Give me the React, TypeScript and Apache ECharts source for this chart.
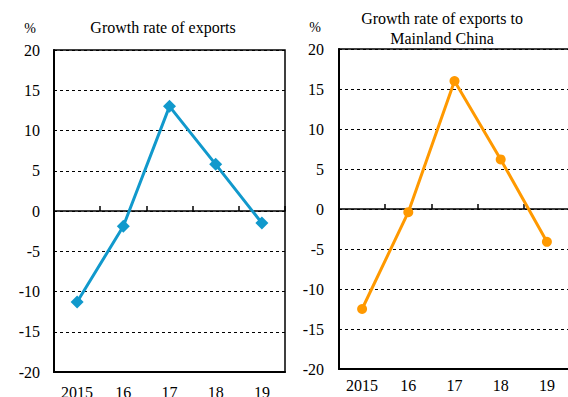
import React, { useEffect, useRef } from "react";
import * as echarts from "echarts";

const years = ["2015", "16", "17", "18", "19"];
const exportsGrowth = [-11.3, -1.9, 13.0, 5.8, -1.5];
const mainlandGrowth = [-12.5, -0.4, 16.0, 6.2, -4.1];
const yTicks = { min: -20, max: 20, interval: 5 };

const FONT = "Liberation Serif";

export default function App() {
  const ref = useRef<HTMLDivElement>(null);
  useEffect(() => {
    document.body.style.margin = "0";
    const chart = echarts.init(ref.current!, null, { renderer: "svg" });
    const grids = [
      { left: 54, top: 50, width: 231, height: 322 },
      { left: 339, top: 49, width: 231, height: 320 },
    ];
    const labelStyle = { color: "#000", fontFamily: FONT, fontSize: 16 };
    const yAxis = grids.map((_, i) => ({
      type: "value",
      gridIndex: i,
      min: yTicks.min,
      max: yTicks.max,
      interval: yTicks.interval,
      axisLine: { show: true, lineStyle: { color: "#000", width: 2 } },
      axisTick: { show: false },
      axisLabel: { ...labelStyle, margin: i === 0 ? 14 : 15 },
      splitLine: { show: true, lineStyle: { color: "#000", type: [3, 3], width: 1 } },
    }));
    const xAxis: any[] = [];
    grids.forEach((_, i) => {
      xAxis.push({
        type: "category",
        gridIndex: i,
        data: years,
        position: "bottom",
        axisLine: { show: true, onZero: false, lineStyle: { color: "#000", width: 2 } },
        axisTick: { show: false },
        axisLabel: { ...labelStyle, margin: i === 0 ? 12 : 8 },
      });
      xAxis.push({
        type: "category",
        gridIndex: i,
        data: years,
        position: "bottom",
        axisLine: { show: true, onZero: true, lineStyle: { color: "#000", width: 1.5 } },
        axisTick: { show: true, inside: true, length: 5, lineStyle: { color: "#000", width: 1.5 } },
        axisLabel: { show: false },
      });
    });
    chart.setOption({
      animation: false,
      textStyle: { fontFamily: FONT },
      grid: grids.map((g) => ({
        ...g,
        outerBoundsMode: "none",
        containLabel: false,
        show: true,
        borderColor: "#000",
        borderWidth: 1.5,
        backgroundColor: "#fff",
      })),
      xAxis,
      yAxis,
      series: [
        {
          type: "line",
          xAxisIndex: 0,
          yAxisIndex: 0,
          data: exportsGrowth,
          symbol: "diamond",
          symbolSize: 13,
          itemStyle: { color: "#1199CC" },
          lineStyle: { color: "#1199CC", width: 3 },
        },
        {
          type: "line",
          xAxisIndex: 2,
          yAxisIndex: 1,
          data: mainlandGrowth,
          symbol: "circle",
          symbolSize: 10,
          itemStyle: { color: "#FF9900" },
          lineStyle: { color: "#FF9900", width: 3 },
        },
      ],
      graphic: [
        { type: "text", x: 163, y: 27, style: { text: "Growth rate of exports", font: `16px ${FONT}`, fill: "#000", textAlign: "center", textVerticalAlign: "middle" } },
        { type: "text", x: 442, y: 28, style: { text: "Growth rate of exports to\nMainland China", font: `16px ${FONT}`, fill: "#000", textAlign: "center", textVerticalAlign: "middle", lineHeight: 20 } },
        { type: "text", x: 30, y: 28, style: { text: "%", font: `14px ${FONT}`, fill: "#000", textAlign: "center", textVerticalAlign: "middle" } },
        { type: "text", x: 315, y: 27, style: { text: "%", font: `14px ${FONT}`, fill: "#000", textAlign: "center", textVerticalAlign: "middle" } },
      ],
    });
    return () => chart.dispose();
  }, []);
  return (
    <div style={{ width: 568, height: 397, position: "fixed", left: 0, top: 0, overflow: "hidden", background: "#fff" }}>
      <div ref={ref} style={{ width: 574, height: 397 }} />
    </div>
  );
}
